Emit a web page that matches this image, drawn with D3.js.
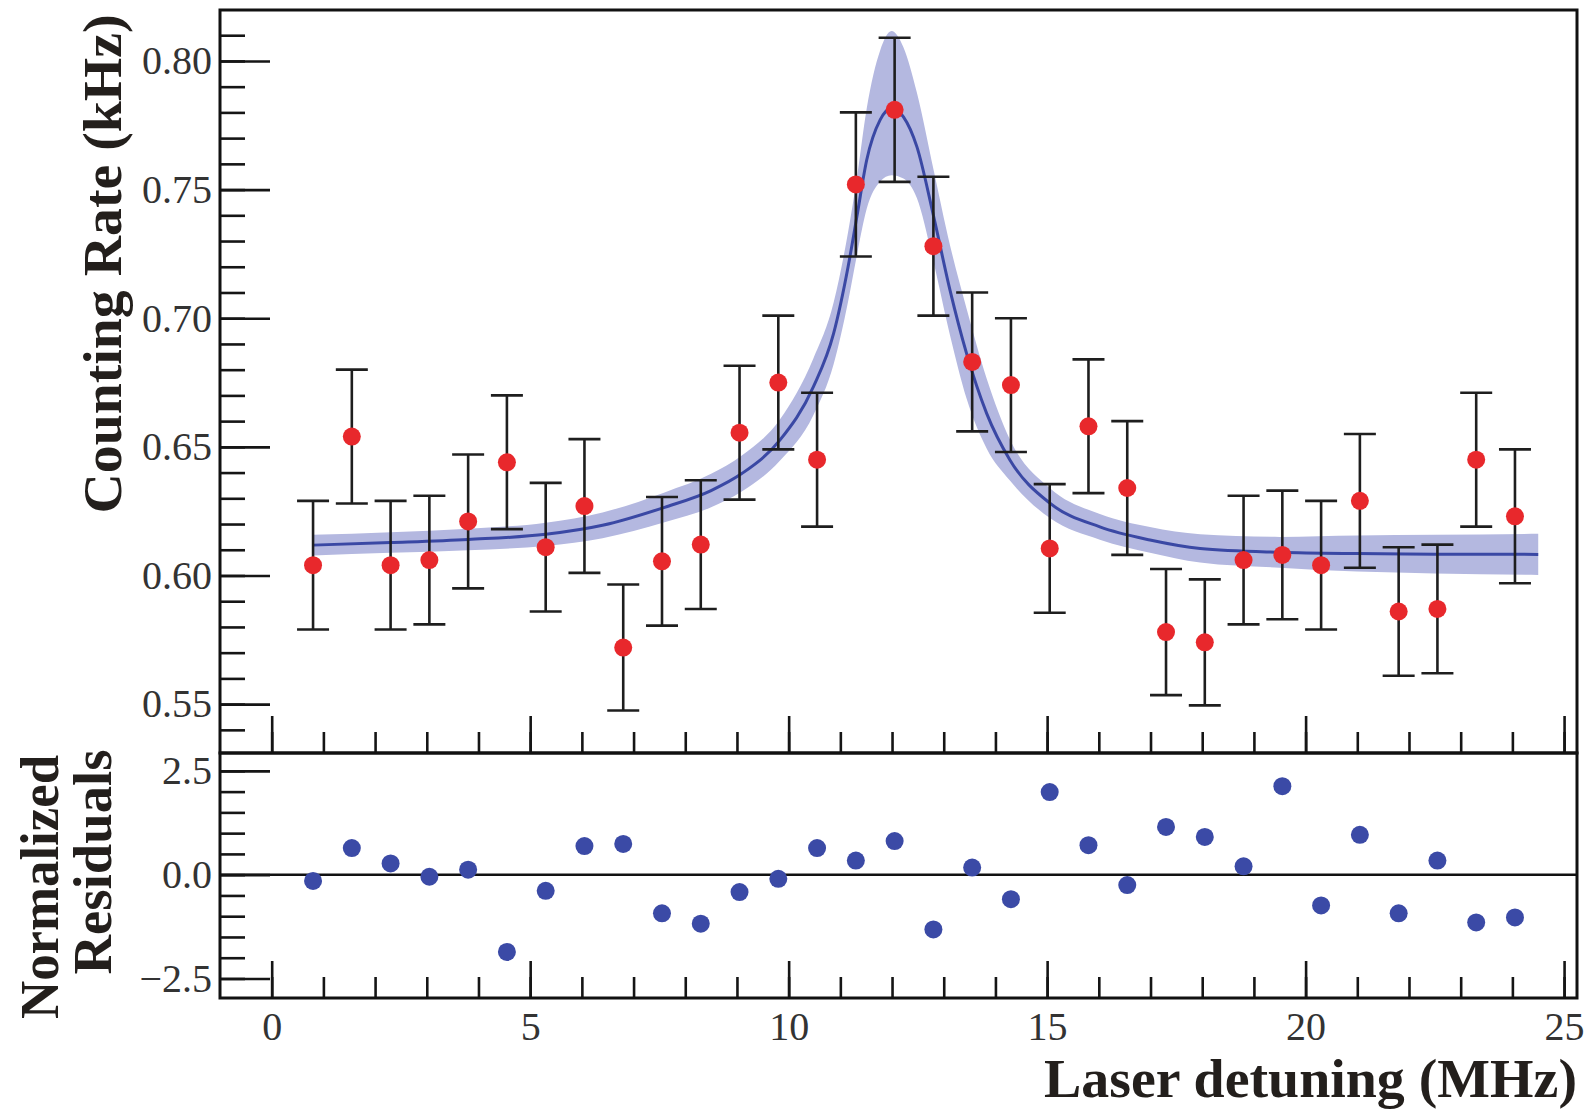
<!DOCTYPE html>
<html>
<head>
<meta charset="utf-8">
<script src="https://cdn.jsdelivr.net/npm/d3@7"></script>
<style>
  body { margin: 0; background: #fff; }
  svg { display: block; }
</style>
</head>
<body>
<div id="chart"></div>
<script>
// measured points: laser detuning (MHz), counting rate (kHz), error, normalized residual
const detuning = [0.8, 1.55, 2.3, 3.05, 3.8, 4.55, 5.3, 6.05, 6.8, 7.55, 8.3, 9.05, 9.8, 10.55, 11.3, 12.05,
                  12.8, 13.55, 14.3, 15.05, 15.8, 16.55, 17.3, 18.05, 18.8, 19.55, 20.3, 21.05, 21.8, 22.55, 23.3, 24.05];
const rate = [0.604, 0.654, 0.604, 0.606, 0.621, 0.644, 0.611, 0.627, 0.572, 0.6055, 0.612, 0.6555, 0.675, 0.645, 0.752, 0.781,
              0.728, 0.683, 0.674, 0.6105, 0.658, 0.634, 0.578, 0.574, 0.606, 0.608, 0.604, 0.629, 0.586, 0.587, 0.645, 0.623];
const rateErr = [0.025, 0.026, 0.025, 0.025, 0.026, 0.026, 0.025, 0.026, 0.0245, 0.025, 0.025, 0.026, 0.026, 0.026, 0.028, 0.028,
                 0.027, 0.027, 0.026, 0.025, 0.026, 0.026, 0.0245, 0.0245, 0.025, 0.025, 0.025, 0.026, 0.025, 0.025, 0.026, 0.026];
const residual = [-0.15, 0.64, 0.27, -0.05, 0.12, -1.86, -0.39, 0.69, 0.74, -0.93, -1.18, -0.42, -0.10, 0.64, 0.34, 0.81,
                  -1.32, 0.17, -0.59, 1.99, 0.71, -0.25, 1.15, 0.91, 0.20, 2.13, -0.74, 0.96, -0.93, 0.34, -1.15, -1.03];

// fitted curve and its uncertainty band
const fitX = [0.8, 2.3, 3.8, 5.3, 6.4, 7.6, 8.5, 9.1, 9.83, 10.48, 10.87, 11.15, 11.32, 11.51, 11.77, 11.99,
              12.22, 12.48, 12.8, 13.12, 13.44, 13.83, 14.28, 15.06, 16.02, 16.99, 17.96, 19.5, 21.0, 22.5, 24.5];
const fitY = [0.6118, 0.6128, 0.6140, 0.6160, 0.6195, 0.6265, 0.6330, 0.6397, 0.6526, 0.6734, 0.6941, 0.7200, 0.7395, 0.7615, 0.7771, 0.7816,
              0.7783, 0.7667, 0.7400, 0.7110, 0.6864, 0.6630, 0.6449, 0.6280, 0.6189, 0.6138, 0.6105, 0.6090, 0.6085, 0.6083, 0.6082];
const bandUp = [0.004, 0.004, 0.0042, 0.0045, 0.005, 0.0058, 0.0065, 0.007, 0.008, 0.011, 0.012, 0.0135, 0.015, 0.020, 0.027, 0.030,
                0.027, 0.021, 0.018, 0.0175, 0.0175, 0.0136, 0.008, 0.0058, 0.005, 0.005, 0.0055, 0.006, 0.007, 0.0075, 0.008];
const bandDn = [0.004, 0.004, 0.0042, 0.0045, 0.005, 0.0058, 0.0065, 0.007, 0.008, 0.011, 0.012, 0.0135, 0.015, 0.019, 0.024, 0.026,
                0.024, 0.020, 0.018, 0.0175, 0.0175, 0.0136, 0.008, 0.0058, 0.005, 0.005, 0.0055, 0.006, 0.007, 0.0075, 0.008];

const xTicks = [0, 5, 10, 15, 20, 25];
const rateTicks = [0.55, 0.60, 0.65, 0.70, 0.75, 0.80];
const residTicks = [-2.5, 0, 2.5];

let width = 1589, height = 1111;
let frame = { left: 220, right: 1577, top: 10, mid: 753, bottom: 998 };

let svg = d3.select("#chart").append("svg")
    .attr("width", width)
    .attr("height", height);

let x = d3.scaleLinear().domain([-1.0, 25.25]).range([frame.left, frame.right]);
let yRate = d3.scaleLinear().domain([0.531, 0.8198]).range([frame.mid, frame.top]);
let yRes = d3.scaleLinear().domain([-2.97, 2.93]).range([frame.bottom, frame.mid]);

let defs = svg.append("defs");
defs.append("clipPath").attr("id", "clipTop").append("rect")
    .attr("x", frame.left).attr("y", frame.top)
    .attr("width", frame.right - frame.left).attr("height", frame.mid - frame.top);

let pts = detuning.map((d, i) => ({ x: d, y: rate[i], e: rateErr[i], r: residual[i] }));
let fit = fitX.map((d, i) => ({ x: d, y: fitY[i], up: bandUp[i], dn: bandDn[i] }));

// ----- top panel -----
let upper = svg.append("g").attr("clip-path", "url(#clipTop)");

upper.append("path")
    .datum(fit)
    .attr("fill", "#b4b8e0")
    .attr("d", d3.area()
        .x(d => x(d.x))
        .y0(d => yRate(d.y - d.dn))
        .y1(d => yRate(d.y + d.up))
        .curve(d3.curveMonotoneX));

upper.append("path")
    .datum(fit)
    .attr("fill", "none")
    .attr("stroke", "#3a48a4")
    .attr("stroke-width", 3)
    .attr("d", d3.line().x(d => x(d.x)).y(d => yRate(d.y)).curve(d3.curveMonotoneX));

let capW = 16;
let bars = upper.append("g")
    .attr("stroke", "#1e1e1e")
    .attr("stroke-width", 2.6);
bars.selectAll("line.err").data(pts).enter().append("line")
    .attr("class", "err")
    .attr("x1", d => x(d.x)).attr("x2", d => x(d.x))
    .attr("y1", d => yRate(d.y - d.e)).attr("y2", d => yRate(d.y + d.e));
bars.selectAll("line.capT").data(pts).enter().append("line")
    .attr("class", "capT")
    .attr("x1", d => x(d.x) - capW).attr("x2", d => x(d.x) + capW)
    .attr("y1", d => yRate(d.y + d.e)).attr("y2", d => yRate(d.y + d.e));
bars.selectAll("line.capB").data(pts).enter().append("line")
    .attr("class", "capB")
    .attr("x1", d => x(d.x) - capW).attr("x2", d => x(d.x) + capW)
    .attr("y1", d => yRate(d.y - d.e)).attr("y2", d => yRate(d.y - d.e));

upper.selectAll("circle").data(pts).enter().append("circle")
    .attr("cx", d => x(d.x))
    .attr("cy", d => yRate(d.y))
    .attr("r", 9)
    .attr("fill", "#e8282c");

// ----- residual panel -----
svg.append("line")
    .attr("x1", frame.left).attr("x2", frame.right)
    .attr("y1", yRes(0)).attr("y2", yRes(0))
    .attr("stroke", "#111").attr("stroke-width", 2.5);

svg.append("g").selectAll("circle").data(pts).enter().append("circle")
    .attr("cx", d => x(d.x))
    .attr("cy", d => yRes(d.r))
    .attr("r", 9)
    .attr("fill", "#3b4aa6");

// ----- axes -----
function styleAxis(g) {
    g.select(".domain").remove();
    g.selectAll(".tick line").attr("stroke", "#151515").attr("stroke-width", 2.6);
    g.selectAll(".tick text")
        .attr("fill", "#333")
        .style("font-family", "'Liberation Serif', 'Times New Roman', serif")
        .style("font-size", "40px");
}
function minorTicks(lo, hi, step) {
    let out = [];
    for (let v = lo; v <= hi + 1e-9; v += step) out.push(+v.toFixed(4));
    return out;
}

// y axis, counting rate
svg.append("g").attr("transform", `translate(${frame.left},0)`)
    .call(d3.axisLeft(yRate).tickValues(minorTicks(0.54, 0.81, 0.01)).tickSize(-25).tickFormat(""))
    .call(styleAxis);
svg.append("g").attr("transform", `translate(${frame.left},0)`)
    .call(d3.axisLeft(yRate).tickValues(rateTicks).tickSize(-50).tickPadding(8).tickFormat(d3.format(".2f")))
    .call(styleAxis);

// y axis, residuals
svg.append("g").attr("transform", `translate(${frame.left},0)`)
    .call(d3.axisLeft(yRes).tickValues(minorTicks(-2.5, 2.5, 0.5)).tickSize(-25).tickFormat(""))
    .call(styleAxis);
svg.append("g").attr("transform", `translate(${frame.left},0)`)
    .call(d3.axisLeft(yRes).tickValues(residTicks).tickSize(-50).tickPadding(8).tickFormat(d3.format(".1f")))
    .call(styleAxis);

// x ticks at bottom of each panel (pointing inward)
[frame.mid, frame.bottom].forEach(function (yy, k) {
    svg.append("g").attr("transform", `translate(0,${yy})`)
        .call(d3.axisBottom(x).tickValues(minorTicks(0, 25, 1)).tickSize(-21).tickFormat(""))
        .call(styleAxis);
    let major = d3.axisBottom(x).tickValues(xTicks).tickSize(-37).tickPadding(14);
    if (k === 0) major.tickFormat("");
    svg.append("g").attr("transform", `translate(0,${yy})`)
        .call(major)
        .call(styleAxis);
});

// frames
svg.append("rect")
    .attr("x", frame.left).attr("y", frame.top)
    .attr("width", frame.right - frame.left).attr("height", frame.mid - frame.top)
    .attr("fill", "none").attr("stroke", "#111").attr("stroke-width", 3);
svg.append("rect")
    .attr("x", frame.left).attr("y", frame.mid)
    .attr("width", frame.right - frame.left).attr("height", frame.bottom - frame.mid)
    .attr("fill", "none").attr("stroke", "#111").attr("stroke-width", 3);

// axis titles
let titleFont = "'Liberation Serif', 'Times New Roman', serif";
function title(txt, tx, ty, rot, anchor, len) {
    svg.append("text")
        .attr("transform", `translate(${tx},${ty}) rotate(${rot})`)
        .attr("text-anchor", anchor)
        .attr("textLength", len)
        .attr("lengthAdjust", "spacingAndGlyphs")
        .style("font-family", titleFont)
        .style("font-weight", "bold")
        .style("font-size", "54px")
        .attr("fill", "#231f1c")
        .text(txt);
}
title("Counting Rate (kHz)", 121, 264, -90, "middle", 499);
title("Normalized", 58, 887, -90, "middle", 264);
title("Residuals", 111, 862, -90, "middle", 225);
title("Laser detuning (MHz)", 1577, 1097, 0, "end", 533);
</script>
</body>
</html>
